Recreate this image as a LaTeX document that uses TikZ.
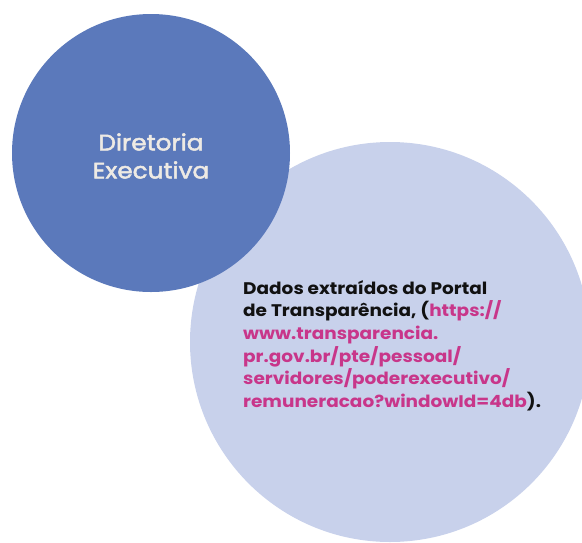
\documentclass[tikz,border=0pt]{standalone}
\usepackage{fontspec}
\setmainfont{Poppins}
\newfontfamily\titlefont[FakeBold=2.2, FakeStretch=1.1]{Poppins}
\newfontfamily\bodyfont[FakeStretch=1.1]{Poppins}
\definecolor{darkblue}{HTML}{5B79BB}
\definecolor{lightblue}{HTML}{C8D1EB}
\definecolor{linkmag}{HTML}{C8368A}
\definecolor{lighttext}{HTML}{EEEAE4}
\definecolor{bodytext}{HTML}{111111}
\begin{document}
\begin{tikzpicture}[x=1pt,y=-1pt,
  bubble/.style={circle, inner sep=0pt, outer sep=0pt},
  titletext/.style={text=lighttext, font=\titlefont\fontsize{22.5}{28}\selectfont, align=center, inner sep=0pt},
  bodytextstyle/.style={text=bodytext, font=\bodyfont\bfseries\fontsize{16.8}{22.7}\selectfont, align=left, inner sep=0pt}]
\useasboundingbox (0,0) rectangle (582,542);
\clip (0,0) rectangle (582,542);
\node[bubble, fill=lightblue, minimum size=400pt] (light) at (390,342) {};
\node[bubble, fill=darkblue, minimum size=278pt] (dark) at (151,153) {};
\node[titletext] (title) at (151,156) {Diretoria\\Executiva};
\node[bodytextstyle, anchor=north west] (body) at (243,280) {Dados extraídos do Portal\\de Transparência, (\textcolor{linkmag}{https://}\\\textcolor{linkmag}{www.transparencia.}\\\textcolor{linkmag}{pr.gov.br/pte/pessoal/}\\\textcolor{linkmag}{servidores/poderexecutivo/}\\\textcolor{linkmag}{remuneracao?windowId=4db}).};
\end{tikzpicture}
\end{document}
